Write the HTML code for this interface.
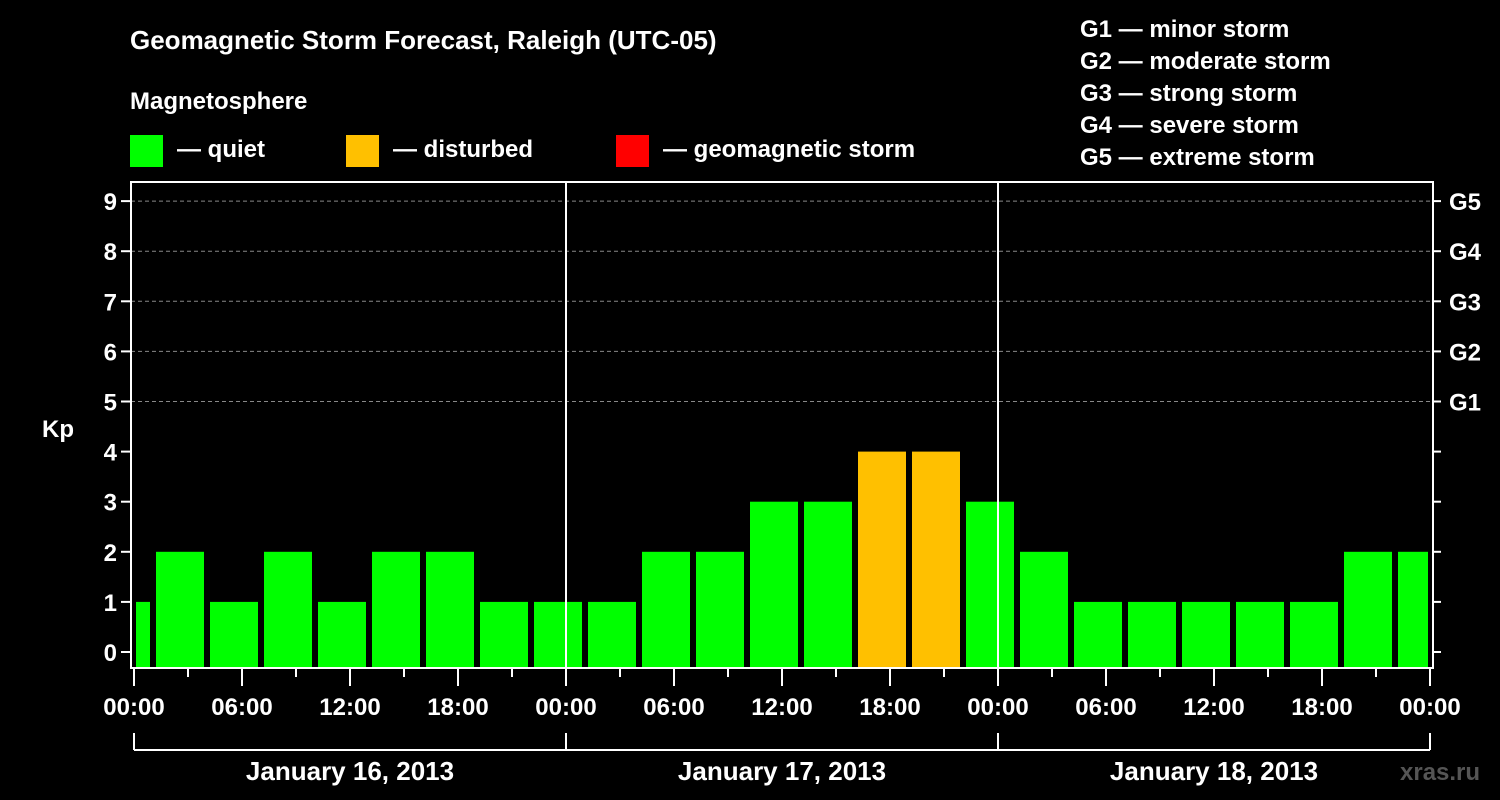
<!DOCTYPE html>
<html><head><meta charset="utf-8"><style>
html,body{margin:0;padding:0;background:#000;}
svg{display:block;font-family:"Liberation Sans",Arial,sans-serif;font-weight:bold;}
</style></head><body>
<svg id="chart" width="1500" height="800" viewBox="0 0 1500 800">
<rect x="0" y="0" width="1500" height="800" fill="#000"/>
<text x="130" y="49" fill="#fff" font-size="26">Geomagnetic Storm Forecast, Raleigh (UTC-05)</text>
<text x="130" y="109" fill="#fff" font-size="24">Magnetosphere</text>
<g><rect x="130" y="135" width="33" height="32" fill="#00ff00"/><text x="177" y="157" fill="#fff" font-size="24">— quiet</text></g>
<g><rect x="346" y="135" width="33" height="32" fill="#ffc000"/><text x="393" y="157" fill="#fff" font-size="24">— disturbed</text></g>
<g><rect x="616" y="135" width="33" height="32" fill="#ff0000"/><text x="663" y="157" fill="#fff" font-size="24">— geomagnetic storm</text></g>
<g fill="#fff" font-size="24">
<text x="1080" y="37">G1 — minor storm</text>
<text x="1080" y="69">G2 — moderate storm</text>
<text x="1080" y="101">G3 — strong storm</text>
<text x="1080" y="133">G4 — severe storm</text>
<text x="1080" y="165">G5 — extreme storm</text>
</g>
<g id="grid"></g>
<g id="bars"></g>
<g id="axes"></g>
<text x="42" y="437" fill="#fff" font-size="24">Kp</text>
<text x="1400" y="780" fill="#555" font-size="24">xras.ru</text>
</svg>
<script>
const kpValues = [1,2,1,2,1,2,2,1,1,1,2,2,3,3,4,4,3,2,1,1,1,1,1,2,2];
const yTicks = [0,1,2,3,4,5,6,7,8,9];
const gLabels = ["G1","G2","G3","G4","G5"];
const xTickLabels = ["00:00","06:00","12:00","18:00","00:00","06:00","12:00","18:00","00:00","06:00","12:00","18:00","00:00"];
const dayLabels = ["January 16, 2013","January 17, 2013","January 18, 2013"];

const NS="http://www.w3.org/2000/svg";
const L=131,R=1433,T=182,B=668,X0=134,PX_H=18;
const y=v=>652-50.1*v;
const x=h=>X0+PX_H*h;
function mk(tag,attrs,parent,text){const e=document.createElementNS(NS,tag);for(const k in attrs)e.setAttribute(k,attrs[k]);if(text!==undefined)e.textContent=text;parent.appendChild(e);return e;}
const grid=document.getElementById('grid'),bars=document.getElementById('bars'),axes=document.getElementById('axes');

yTicks.forEach(v=>{
  if(v>=5){const g=mk('line',{x1:L,x2:R,y1:y(v),y2:y(v),stroke:'#888','stroke-dasharray':'4,3','stroke-width':1},grid);
  
  }
  const t=mk('line',{x1:121,x2:L,y1:y(v),y2:y(v),stroke:'#fff','stroke-width':2},axes);
  
  
  const lb=mk('text',{x:117,y:y(v)+9,fill:'#fff','font-size':24,'text-anchor':'end'},axes,String(v));
  
  
  const rt=mk('line',{x1:R,x2:1441,y1:y(v),y2:y(v),stroke:'#fff','stroke-width':2},axes);
  
  
  if(v>=5){const gl=mk('text',{x:1449,y:y(v)+9,fill:'#fff','font-size':24},axes,gLabels[v-5]);
  
  }
});

kpValues.forEach((v,i)=>{
  const h0=-2+3*i;
  let x1=x(h0)+4,x2=x(h0)+52;
  x1=Math.max(x1,L+5);x2=Math.min(x2,R-5);
  const col=v>=5?'#ff0000':(v>=4?'#ffc000':'#00ff00');
  const b=mk('rect',{x:x1,y:y(v),width:x2-x1,height:B-y(v),fill:col},bars);
  
  
});

const fr=mk('rect',{x:L,y:T,width:R-L,height:B-T,fill:'none',stroke:'#fff','stroke-width':2},axes);


for(let d=1;d<dayLabels.length;d++){
  const dl=mk('line',{x1:x(24*d),x2:x(24*d),y1:T,y2:B,stroke:'#fff','stroke-width':2},axes);
  
  
}
for(let h=0;h<=72;h+=3){
  const long=h%6===0;
  const t=mk('line',{x1:x(h),x2:x(h),y1:B,y2:long?686:677,stroke:'#fff','stroke-width':2},axes);
  
  
}
xTickLabels.forEach((s,i)=>{
  const t=mk('text',{x:x(6*i),y:715,fill:'#fff','font-size':24,'text-anchor':'middle'},axes,s);
  
  
});
const br=mk('line',{x1:x(0),x2:x(72),y1:750,y2:750,stroke:'#fff','stroke-width':2},axes);


for(let d=0;d<=dayLabels.length;d++){
  const v=mk('line',{x1:x(24*d),x2:x(24*d),y1:733,y2:750,stroke:'#fff','stroke-width':2},axes);
  
  
}
dayLabels.forEach((s,i)=>{
  const t=mk('text',{x:x(24*i+12),y:780,fill:'#fff','font-size':26,'text-anchor':'middle'},axes,s);
  
  
});
</script>
</body></html>
